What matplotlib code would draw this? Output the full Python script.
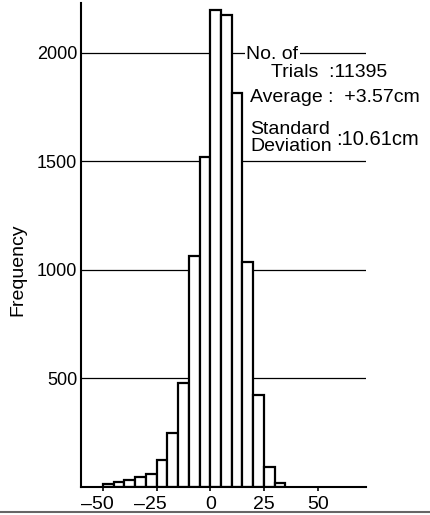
import numpy as np
import matplotlib as mpl
mpl.use("Agg")
import matplotlib.pyplot as plt
import matplotlib.transforms as mtransforms
from matplotlib.lines import Line2D

plt.rcParams['font.family'] = ['Liberation Sans', 'DejaVu Sans']

# histogram (bin width 5 cm, left edges)
bin_left = [-50, -45, -40, -35, -30, -25, -20, -15, -10, -5, 0, 5, 10, 15, 20, 25, 30]
counts = [10, 20, 32, 42, 60, 120, 245, 478, 1062, 1517, 2195, 2172, 1813, 1034, 421, 90, 15]
bin_width = 5

x_ticks = [-50, -25, 0, 25, 50]
x_labels = ['\u201350', '\u201325', '0', '25', '50']
y_ticks = [500, 1000, 1500, 2000]
y_labels = ['500', '1000', '1500', '2000']

fig = plt.figure(figsize=(4.30, 5.15), dpi=100)
ax = fig.add_axes([0.1895, 0.0553, 0.6615, 0.9387])

ax.bar(bin_left, counts, width=bin_width, align='edge',
       facecolor='white', edgecolor='black', linewidth=1.6, zorder=2)

ax.set_xlim(-60, 72.5)
ax.set_ylim(0, 2228)

# horizontal guide lines, hidden behind the bars
ax.set_axisbelow(True)
ax.yaxis.grid(True, color='black', linewidth=0.9)

ax.set_yticks(y_ticks, y_labels, fontsize=13)
ax.set_xticks(x_ticks, x_labels, fontsize=14)
ax.tick_params(axis='y', length=0, pad=3)
ax.tick_params(axis='x', length=3, width=1.2, pad=4, direction='out')

# shift negative labels so the digits sit under the tick
for lab, t in zip(ax.get_xticklabels(), x_ticks):
    if t < 0:
        lab.set_transform(lab.get_transform() +
                          mtransforms.ScaledTranslation(-6 / 100, 0, fig.dpi_scale_trans))

for s in ['top', 'right']:
    ax.spines[s].set_visible(False)
ax.spines['left'].set_linewidth(1.5)
ax.spines['bottom'].set_linewidth(1.5)

ax.set_ylabel('Frequency', fontsize=14)
ax.yaxis.set_label_coords(-0.195, 0.448)

# legend-like notes
box = dict(facecolor='white', edgecolor='none', pad=1)
ax.text(16.7, 1992, 'No. of', fontsize=14, va='center', ha='left', bbox=box, zorder=3)
ax.text(28.2, 1908, 'Trials  :11395', fontsize=14, va='center', ha='left', zorder=3)
ax.text(18.5, 1792, 'Average :  +3.57cm', fontsize=14, va='center', ha='left', zorder=3)
ax.text(18.5, 1645, 'Standard', fontsize=14, va='center', ha='left', zorder=3)
ax.text(18.5, 1565, 'Deviation', fontsize=14, va='center', ha='left', zorder=3)
ax.text(58.5, 1600, ':10.61cm', fontsize=14.5, va='center', ha='left', zorder=3)

# scan border at the bottom of the page
fig.add_artist(Line2D([0, 1], [0.005, 0.005], transform=fig.transFigure,
                      color='#666666', linewidth=1.5))

fig.savefig('out.png', dpi=100)
